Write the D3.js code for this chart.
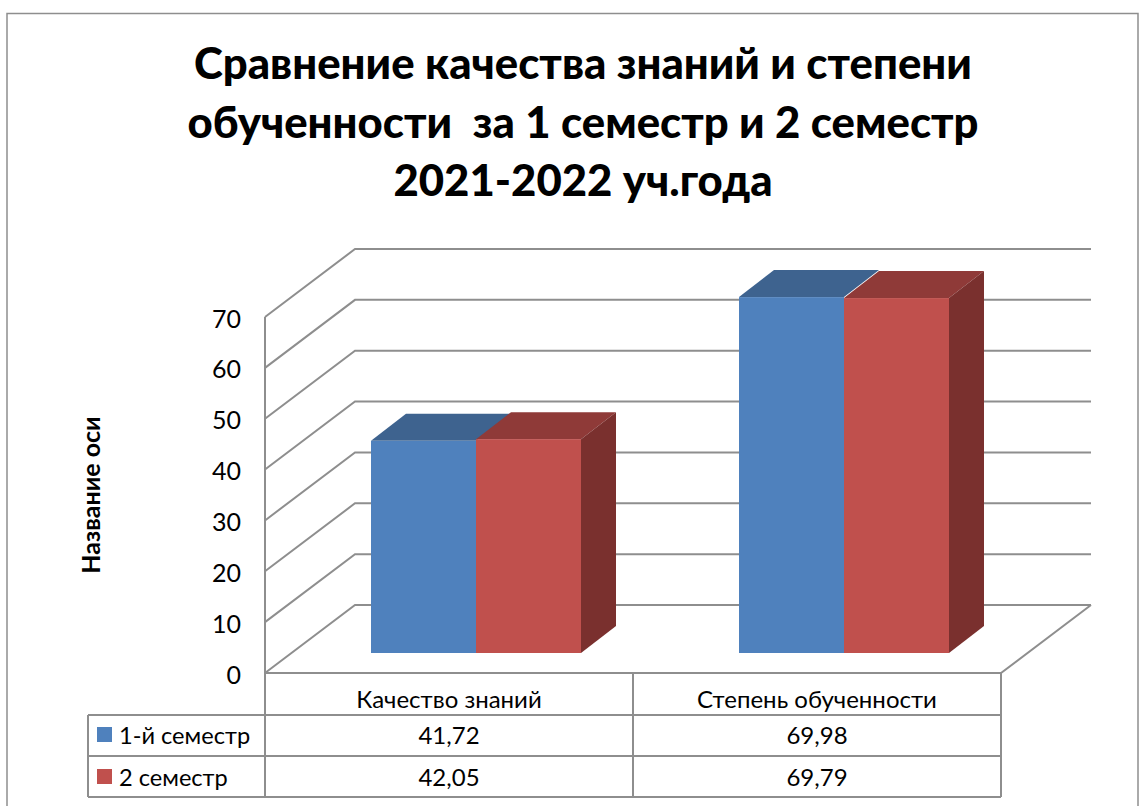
<!DOCTYPE html>
<html>
<head>
<meta charset="utf-8">
<script src="https://cdnjs.cloudflare.com/ajax/libs/d3/7.8.5/d3.min.js"></script>
<style>
html, body { margin: 0; padding: 0; background: #fff; }
svg { display: block; font-family: Lato, "Open Sans", sans-serif; }
text { white-space: pre; }
</style>
</head>
<body>
<svg id="chart" width="1145" height="806"></svg>
<script>
// values
var categories = ["Качество знаний", "Степень обученности"];
var seriesNames = ["1-й семестр", "2 семестр"];
var semester1 = [41.72, 69.98];
var semester2 = [42.05, 69.79];
var valueLabels1 = ["41,72", "69,98"];
var valueLabels2 = ["42,05", "69,79"];
var yTicks = [0, 10, 20, 30, 40, 50, 60, 70];
var titleLines = ["Сравнение качества знаний и степени", "обученности  за 1 семестр и 2 семестр", "2021-2022 уч.года"];

var blue = {front: "#4f81bd", top: "#3e638f", side: "#3e638f"};
var red = {front: "#c0504d", top: "#8f3a38", side: "#7a302e"};
var gray = "#8e8e8e";

var svg = d3.select("#chart");

// outer frame, runs off the bottom of the picture
svg.append("path")
    .attr("d", "M7,806V13.5H1138V806")
    .attr("fill", "none").attr("stroke", gray).attr("stroke-width", 1.5);

var title = svg.append("g").attr("font-weight", 900).attr("font-size", 43.7).attr("text-anchor", "middle").attr("fill", "#000");
title.selectAll("text").data(titleLines).enter().append("text")
    .attr("x", 583)
    .attr("y", (d, i) => 79 + i * 58.5)
    .text(d => d);

// front plane scales
var y = d3.scaleLinear().domain([0, 70]).range([673, 317]);
var x = d3.scaleBand().domain(categories).range([265, 1001]);
var depthX = 90, depthY = -68;   // floor/wall depth
var barDepthX = 35, barDepthY = -27;
var barBase = 653;
var barWidth = 105;
var barShift = 27;   // bars sit partway into the floor
var rightX = 1001;

// gridlines on side wall + back wall
var grid = svg.append("g").attr("fill", "none").attr("stroke", gray).attr("stroke-width", 2);
yTicks.forEach(t => {
    var p = d3.path();
    p.moveTo(x.range()[0], y(t));
    p.lineTo(x.range()[0] + depthX, y(t) + depthY);
    p.lineTo(rightX + depthX, y(t) + depthY);
    grid.append("path").attr("d", p.toString());
});
// floor edges
var floor = d3.path();
floor.moveTo(rightX + depthX, y(0) + depthY);
floor.lineTo(rightX, y(0));
floor.lineTo(x.range()[0], y(0));
grid.append("path").attr("d", floor.toString());
// y axis line, goes down through the table
grid.append("line").attr("x1", 265).attr("x2", 265).attr("y1", y(70)).attr("y2", 797);

function poly(pts) {
    return d3.line()(pts) + "Z";
}

function drawBar(x0, value, col, withSide) {
    var h = y(0) - y(value);
    var top = barBase - h;
    var x1 = x0 + barWidth;
    var g = svg.append("g");
    g.append("path").attr("fill", col.top)
        .attr("d", poly([[x0, top], [x1, top], [x1 + barDepthX, top + barDepthY], [x0 + barDepthX, top + barDepthY]]));
    if (withSide) {
        g.append("path").attr("fill", col.side)
            .attr("d", poly([[x1, top], [x1 + barDepthX, top + barDepthY], [x1 + barDepthX, barBase + barDepthY], [x1, barBase]]));
    }
    g.append("rect").attr("x", x0).attr("y", top).attr("width", barWidth).attr("height", h).attr("fill", col.front);
}

categories.forEach((c, i) => {
    var start = x(c) + (x.bandwidth() - 2 * barWidth) / 2 + barShift;
    drawBar(start, semester1[i], blue, false);
    drawBar(start + barWidth, semester2[i], red, true);
});

// y axis labels
var yAxis = d3.axisLeft(y).tickValues(yTicks).tickSize(0).tickPadding(0);
var yg = svg.append("g").attr("transform", "translate(241,2)").call(yAxis);
yg.select(".domain").remove();
yg.selectAll("text").attr("font-family", "Lato, sans-serif").attr("font-size", 25).attr("fill", "#000");

svg.append("text")
    .attr("transform", "translate(100,495) rotate(-90)")
    .attr("text-anchor", "middle").attr("font-weight", 700).attr("font-size", 25)
    .text("Название оси");

// data table under the chart
var rowY = [673, 715, 756, 797];
var colX = [88, 265, 633, 1001];
var tbl = svg.append("g").attr("fill", "none").attr("stroke", gray).attr("stroke-width", 2);
rowY.slice(1).forEach(r => tbl.append("line").attr("x1", colX[0]).attr("x2", colX[3]).attr("y1", r).attr("y2", r));
tbl.append("line").attr("x1", colX[0]).attr("x2", colX[0]).attr("y1", rowY[1]).attr("y2", rowY[3]);
tbl.append("line").attr("x1", colX[2]).attr("x2", colX[2]).attr("y1", rowY[0]).attr("y2", rowY[3]);
tbl.append("line").attr("x1", colX[3]).attr("x2", colX[3]).attr("y1", rowY[0]).attr("y2", rowY[3]);

var txt = svg.append("g").attr("font-size", 24).attr("fill", "#000");
categories.forEach((c, i) => {
    var cx = x(c) + x.bandwidth() / 2;
    txt.append("text").attr("x", cx).attr("y", 708).attr("text-anchor", "middle").text(c);
    txt.append("text").attr("x", cx).attr("y", 744).attr("text-anchor", "middle").text(valueLabels1[i]);
    txt.append("text").attr("x", cx).attr("y", 786).attr("text-anchor", "middle").text(valueLabels2[i]);
});
seriesNames.forEach((s, i) => {
    var base = i == 0 ? 744 : 786;
    svg.append("rect").attr("x", 97).attr("y", i == 0 ? 727 : 769).attr("width", 15).attr("height", 15)
        .attr("fill", i == 0 ? blue.front : red.front);
    txt.append("text").attr("x", 119).attr("y", base).attr("font-size", 23.6).text(s);
});
</script>
</body>
</html>
